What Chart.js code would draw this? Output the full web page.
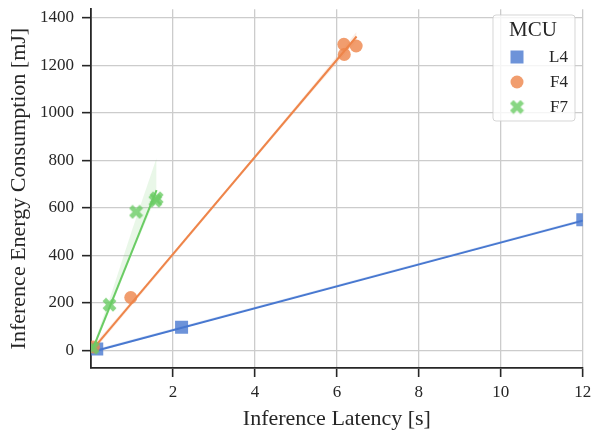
<!DOCTYPE html>
<html>
<head>
<meta charset="utf-8">
<script src="https://cdn.jsdelivr.net/npm/chart.js@4/dist/chart.umd.min.js"></script>
<style>
  html, body { margin: 0; padding: 0; background: #fff; }
  #wrap { width: 592px; height: 435px; }
</style>
</head>
<body>
<div id="wrap"><canvas id="chart"></canvas></div>
<script>
var l4X = [0.14, 2.21, 12.0];
var l4Y = [5, 97, 550];
var f4X = [0.06, 0.97, 6.17, 6.18, 6.47];
var f4Y = [14, 222, 1289, 1246, 1282];
var f7X = [0.04, 0.45, 1.10, 1.57, 1.60];
var f7Y = [10, 192, 583, 630, 640];

// regression lines (end points) and confidence bands
var l4FitX = [0.1, 12.0];
var l4FitY = [-3, 546];
var f4FitX = [0.05, 6.48];
var f4FitY = [6, 1322];
var f7FitX = [0.04, 1.6];
var f7FitY = [4, 675];

var l4BandX = [0.1, 6, 12];
var l4BandHi = [4, 276, 553];
var l4BandLo = [-9, 269, 539];
var f4BandX = [0.05, 1.5, 3.5, 5.5, 6.48];
var f4BandHi = [20, 310, 717, 1133, 1342];
var f4BandLo = [-6, 292, 705, 1110, 1302];
var f7BandX = [0.04, 0.5, 1.0, 1.6];
var f7BandHi = [12, 240, 505, 810];
var f7BandLo = [-3, 185, 405, 650];

var xTicks = [2, 4, 6, 8, 10, 12];
var yTicks = [0, 200, 400, 600, 800, 1000, 1200, 1400];
var groups = ['L4', 'F4', 'F7'];

var colors = {
  blue: '#4878d0',
  orange: '#ee854a',
  green: '#6acc64'
};
var ink = '#262626';
var serif = "'Liberation Serif', 'DejaVu Serif', serif";

function pts(xs, ys) {
  return xs.map(function(x, i) { return { x: x, y: ys[i] }; });
}

function rgba(hex, a) {
  var n = parseInt(hex.slice(1), 16);
  return 'rgba(' + (n >> 16) + ',' + ((n >> 8) & 255) + ',' + (n & 255) + ',' + a + ')';
}

// filled "X" marker like matplotlib's
function makeX(color, size) {
  var c = document.createElement('canvas');
  c.width = size; c.height = size;
  var g = c.getContext('2d');
  var s = size - 1;
  var v = [[-0.25,-0.5],[0,-0.25],[0.25,-0.5],[0.5,-0.25],[0.25,0],[0.5,0.25],
           [0.25,0.5],[0,0.25],[-0.25,0.5],[-0.5,0.25],[-0.25,0],[-0.5,-0.25]];
  g.fillStyle = color;
  g.beginPath();
  v.forEach(function(p, i) {
    var px = size / 2 + p[0] * s, py = size / 2 + p[1] * s;
    if (i === 0) g.moveTo(px, py); else g.lineTo(px, py);
  });
  g.closePath();
  g.fill();
  return c;
}

var xMarker = makeX(rgba(colors.green, 0.8), 15);

function band(xs, hi, lo, color, order, idxLo) {
  return [{
    data: pts(xs, lo), showLine: true, pointRadius: 0, borderWidth: 0,
    borderColor: 'transparent', fill: false, order: order, clip: 0
  }, {
    data: pts(xs, hi), showLine: true, pointRadius: 0, borderWidth: 0,
    borderColor: 'transparent', backgroundColor: rgba(color, 0.15),
    fill: { target: idxLo }, order: order, clip: 0
  }];
}

function fit(xs, ys, color, order) {
  return {
    data: pts(xs, ys), showLine: true, pointRadius: 0, borderWidth: 2,
    borderColor: color, fill: false, order: order, clip: 0
  };
}

function scatter(xs, ys, style, radius, color, order) {
  return {
    data: pts(xs, ys), showLine: false, pointStyle: style, pointRadius: radius,
    pointHoverRadius: radius, backgroundColor: color, borderWidth: 0,
    borderColor: 'transparent', order: order, clip: 0
  };
}

var datasets = [];
datasets = datasets.concat(band(l4BandX, l4BandHi, l4BandLo, colors.blue, 9, 0));
datasets.push(scatter(l4X, l4Y, 'rect', 9.2, rgba(colors.blue, 0.8), 8));
datasets.push(fit(l4FitX, l4FitY, colors.blue, 7));
datasets = datasets.concat(band(f4BandX, f4BandHi, f4BandLo, colors.orange, 6, 4));
datasets.push(scatter(f4X, f4Y, 'circle', 6.5, rgba(colors.orange, 0.8), 5));
datasets.push(fit(f4FitX, f4FitY, colors.orange, 4));
datasets = datasets.concat(band(f7BandX, f7BandHi, f7BandLo, colors.green, 3, 8));
datasets.push(scatter(f7X, f7Y, xMarker, 7, rgba(colors.green, 0.8), 2));
datasets.push(fit(f7FitX, f7FitY, colors.green, 1));

// legend drawn inside the plot, top right
var mcuLegend = {
  id: 'mcuLegend',
  afterDraw: function(chart) {
    var ctx = chart.ctx;
    var bx = 493, by = 15, bw = 82, bh = 106, r = 3;
    ctx.save();
    ctx.beginPath();
    ctx.moveTo(bx + r, by);
    ctx.arcTo(bx + bw, by, bx + bw, by + bh, r);
    ctx.arcTo(bx + bw, by + bh, bx, by + bh, r);
    ctx.arcTo(bx, by + bh, bx, by, r);
    ctx.arcTo(bx, by, bx + bw, by, r);
    ctx.closePath();
    ctx.fillStyle = 'rgba(255,255,255,0.8)';
    ctx.fill();
    ctx.strokeStyle = 'rgba(204,204,204,0.8)';
    ctx.lineWidth = 1;
    ctx.stroke();

    ctx.fillStyle = ink;
    ctx.textBaseline = 'middle';
    ctx.textAlign = 'center';
    ctx.font = '21px ' + serif;
    ctx.fillText('MCU', 533, 30);

    ctx.font = '17px ' + serif;
    ctx.textAlign = 'right';
    var rows = [57, 82, 107];
    groups.forEach(function(name, i) {
      var y = rows[i];
      if (i === 0) {
        ctx.fillStyle = rgba(colors.blue, 0.8);
        ctx.fillRect(517 - 6.5, y - 6.5, 13, 13);
      } else if (i === 1) {
        ctx.fillStyle = rgba(colors.orange, 0.8);
        ctx.beginPath();
        ctx.arc(517, y, 6.5, 0, Math.PI * 2);
        ctx.fill();
      } else {
        ctx.drawImage(xMarker, 517 - xMarker.width / 2, y - xMarker.height / 2);
      }
      ctx.fillStyle = ink;
      ctx.fillText(name, 568, y + 1);
    });
    ctx.restore();
  }
};

function plain(v) { return String(v); }

new Chart(document.getElementById('chart').getContext('2d'), {
  type: 'scatter',
  data: { datasets: datasets },
  options: {
    responsive: true,
    maintainAspectRatio: false,
    animation: false,
    layout: { padding: { top: 5, right: 9, bottom: 0, left: 0 } },
    plugins: {
      legend: { display: false },
      tooltip: { enabled: false }
    },
    scales: {
      x: {
        type: 'linear',
        min: 0,
        max: 12,
        afterBuildTicks: function(scale) {
          scale.ticks = xTicks.map(function(v) { return { value: v }; });
        },
        afterFit: function(scale) {
          scale.height = 67;
          scale.paddingLeft = 0;
          scale.paddingRight = 0;
        },
        grid: {
          color: '#cccccc', lineWidth: 1.3,
          tickColor: ink, tickWidth: 1.6, tickLength: 9
        },
        border: { display: true, color: ink, width: 1.8 },
        ticks: {
          color: ink, padding: 5, callback: plain,
          font: { family: serif, size: 17 }
        },
        title: {
          display: true, text: 'Inference Latency [s]', color: ink,
          font: { family: serif, size: 22 }, padding: { top: 0, bottom: 3 }
        }
      },
      y: {
        type: 'linear',
        min: -75,
        max: 1437,
        afterBuildTicks: function(scale) {
          scale.ticks = yTicks.map(function(v) { return { value: v }; });
        },
        afterFit: function(scale) {
          scale.width = 91;
          scale.paddingTop = 0;
          scale.paddingBottom = 0;
        },
        grid: {
          color: '#cccccc', lineWidth: 1.3,
          tickColor: ink, tickWidth: 1.6, tickLength: 9
        },
        border: { display: true, color: ink, width: 1.8 },
        ticks: {
          color: ink, padding: 8, callback: plain,
          font: { family: serif, size: 17 }
        },
        title: {
          display: true, text: 'Inference Energy Consumption [mJ]', color: ink,
          font: { family: serif, size: 22 }, padding: { top: 6, bottom: 0 }
        }
      }
    }
  },
  plugins: [mcuLegend]
});
</script>
</body>
</html>
